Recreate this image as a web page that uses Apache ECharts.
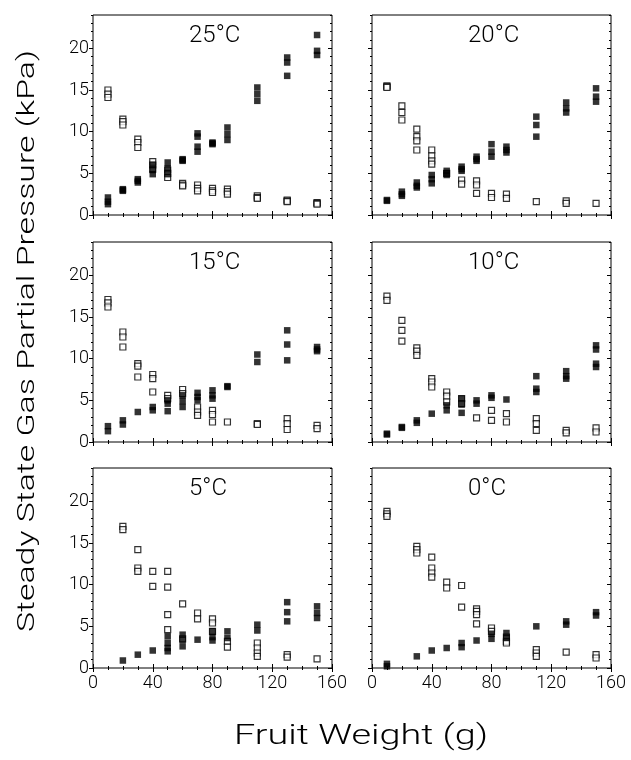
<!DOCTYPE html>
<html>
<head>
<meta charset="utf-8">
<script src="https://cdn.jsdelivr.net/npm/echarts@6/dist/echarts.min.js"></script>
<style>html,body{margin:0;padding:0;background:#fff}#c{width:631px;height:760px}</style>
</head>
<body>
<div id="c"></div>
<script>
// ---- data: [fruit weight (g), partial pressure (kPa)] ----
const panelTitles = ['25°C', '20°C', '15°C', '10°C', '5°C', '0°C'];
const xTicks = [0, 40, 80, 120, 160];
const yTicks = [0, 5, 10, 15, 20];

const open25 = [[10,15.0],[10,14.5],[10,14.1],[20,11.5],[20,11.2],[20,10.8],[30,9.1],[30,8.7],[30,8.1],[40,6.4],[40,6.0],[40,5.5],[50,5.4],[50,5.0],[50,4.5],[60,3.8],[60,3.6],[60,3.5],[70,3.6],[70,3.2],[70,2.9],[80,3.2],[80,2.9],[80,2.7],[90,3.1],[90,2.8],[90,2.5],[110,2.3],[110,2.1],[110,2.0],[130,1.8],[130,1.7],[130,1.6],[150,1.5],[150,1.4],[150,1.3]];
const filled25 = [[10,2.1],[10,1.6],[10,1.3],[20,3.1],[20,3.0],[20,2.9],[30,4.3],[30,4.1],[30,3.9],[40,6.0],[40,5.4],[40,4.9],[50,6.3],[50,5.6],[50,4.9],[60,6.7],[60,6.6],[60,6.5],[70,9.8],[70,9.4],[70,8.2],[70,7.6],[80,8.7],[80,8.6],[80,8.5],[90,10.5],[90,9.7],[90,9.0],[110,15.3],[110,14.5],[110,13.7],[130,18.9],[130,18.3],[130,16.7],[150,21.6],[150,19.7],[150,19.2]];

const open20 = [[10,15.5],[10,15.4],[10,15.3],[20,13.1],[20,12.3],[20,11.4],[30,10.3],[30,9.4],[30,8.9],[30,7.8],[40,7.8],[40,7.1],[40,6.5],[40,6.1],[50,5.0],[60,4.2],[60,3.7],[70,4.1],[70,3.6],[70,2.6],[80,2.6],[80,2.1],[90,2.5],[90,2.0],[110,1.6],[130,1.7],[130,1.4],[150,1.4]];
const filled20 = [[10,1.8],[10,1.7],[20,2.8],[20,2.5],[20,2.3],[30,3.9],[30,3.5],[30,3.3],[40,4.8],[40,4.3],[40,3.8],[50,5.3],[50,5.0],[50,4.8],[60,5.8],[60,5.5],[60,5.3],[70,7.0],[70,6.7],[70,6.5],[80,8.5],[80,7.6],[80,7.0],[90,8.2],[90,7.8],[90,7.5],[110,11.8],[110,10.8],[110,9.4],[130,13.5],[130,12.8],[130,12.3],[150,15.2],[150,14.2],[150,13.6]];

const open15 = [[10,17.1],[10,16.7],[10,16.2],[20,13.2],[20,12.6],[20,11.4],[30,9.4],[30,9.1],[30,7.8],[40,8.1],[40,7.6],[40,6.0],[50,5.6],[50,5.2],[60,6.3],[60,5.8],[70,4.2],[70,3.6],[70,3.2],[80,3.8],[80,3.3],[80,2.4],[90,2.4],[110,2.2],[110,2.1],[130,2.8],[130,2.2],[130,1.5],[150,2.0],[150,1.6]];
const filled15 = [[10,1.9],[10,1.3],[20,2.6],[20,2.1],[30,3.6],[40,4.2],[40,3.8],[50,5.0],[50,4.6],[50,3.7],[60,5.6],[60,4.9],[60,4.2],[70,5.9],[70,5.4],[70,5.0],[80,6.2],[80,5.6],[80,5.2],[90,6.7],[90,6.6],[110,10.5],[110,9.6],[130,13.4],[130,11.7],[130,9.8],[150,11.4],[150,11.1],[150,10.9]];

const open10 = [[10,17.5],[10,17.0],[20,14.6],[20,13.4],[20,12.1],[30,11.3],[30,10.9],[30,10.4],[40,7.6],[40,7.2],[40,6.6],[50,6.0],[50,5.5],[50,4.8],[60,5.2],[60,4.6],[70,2.9],[80,3.8],[80,2.6],[90,3.4],[90,2.4],[110,2.8],[110,2.2],[110,1.4],[130,1.4],[130,1.1],[150,1.7],[150,1.2]];
const filled10 = [[10,1.0],[10,0.9],[20,1.8],[20,1.7],[30,2.6],[30,2.3],[40,3.4],[50,4.4],[50,3.8],[60,5.2],[60,4.5],[60,3.5],[70,5.0],[70,4.6],[80,5.6],[80,5.3],[90,5.1],[110,7.9],[110,6.4],[110,6.0],[130,8.5],[130,7.9],[130,7.6],[150,11.6],[150,11.1],[150,9.4],[150,9.0]];

const open5 = [[20,17.0],[20,16.6],[30,14.2],[30,12.0],[30,11.6],[40,11.6],[40,9.8],[50,11.6],[50,9.7],[50,6.4],[50,4.6],[60,7.7],[60,3.5],[70,6.6],[70,5.9],[80,5.9],[80,5.4],[80,4.4],[90,3.2],[90,2.5],[110,3.0],[110,2.4],[110,1.8],[110,1.4],[130,1.6],[130,1.3],[150,1.1]];
const filled5 = [[20,0.9],[30,1.6],[40,2.1],[50,3.8],[50,3.0],[50,2.4],[50,2.0],[60,4.0],[60,3.4],[60,2.6],[70,3.4],[80,4.4],[80,3.7],[80,3.3],[90,4.4],[90,3.6],[110,5.2],[110,4.5],[130,7.9],[130,6.7],[130,5.6],[150,7.4],[150,6.6],[150,6.0]];

const open0 = [[10,18.8],[10,18.5],[10,18.2],[30,14.6],[30,14.2],[30,13.8],[40,13.3],[40,12.0],[40,11.4],[40,10.9],[50,10.3],[50,9.6],[60,9.9],[60,7.3],[70,7.1],[70,6.8],[70,6.4],[70,5.3],[80,4.8],[80,4.4],[90,3.7],[90,3.2],[90,3.0],[110,2.2],[110,1.8],[110,1.4],[130,1.9],[150,1.6],[150,1.2]];
const filled0 = [[10,0.5],[10,0.2],[30,1.4],[40,2.1],[50,2.4],[60,3.0],[60,2.5],[70,3.3],[80,4.1],[80,3.5],[90,4.2],[90,3.6],[110,5.0],[130,5.6],[130,5.2],[150,6.7],[150,6.3]];

const openSets = [open25, open20, open15, open10, open5, open0];
const filledSets = [filled25, filled20, filled15, filled10, filled5, filled0];

// ---- layout ----
const FONT = 'Roboto';
const colLeft = [93, 372];
const rowTop = [15, 242, 468];
const gw = 239, gh = 200;

const grid = [], xAxis = [], yAxis = [], series = [], graphic = [];
for (let i = 0; i < 6; i++) {
  const col = i % 2, row = Math.floor(i / 2);
  grid.push({left: colLeft[col], top: rowTop[row], width: gw, height: gh,
    show: true, borderColor: '#000', borderWidth: 1, backgroundColor: 'transparent'});
  const showX = row === 2, showY = col === 0;
  const xBase = {gridIndex: i, type: 'value', min: 0, max: 160, interval: 40,
    axisLine: {show: false}, splitLine: {show: false},
    axisTick: {inside: true, length: 4, lineStyle: {color: '#000'}},
    minorTick: {show: true, splitNumber: 4, length: 2, lineStyle: {color: '#000'}}};
  xAxis.push(Object.assign({}, xBase, {position: 'bottom',
    axisLabel: {show: showX, margin: 6, color: '#000', fontFamily: FONT, fontWeight: 300, fontSize: 18,
      customValues: xTicks}}));
  xAxis.push(Object.assign({}, xBase, {position: 'top', axisLabel: {show: false}}));
  const yBase = {gridIndex: i, type: 'value', min: 0, max: 24,
    axisLine: {show: false}, splitLine: {show: false}};
  yAxis.push(Object.assign({}, yBase, {position: 'left', interval: 5,
    axisTick: {inside: false, length: 4, customValues: yTicks, lineStyle: {color: '#000'}},
    axisLabel: {show: showY, margin: 4, customValues: yTicks,
      color: '#000', fontFamily: FONT, fontWeight: 300, fontSize: 18}}));
  yAxis.push(Object.assign({}, yBase, {position: 'left', interval: 1,
    axisTick: {inside: false, length: 2, lineStyle: {color: '#000'}}, axisLabel: {show: false}}));
  yAxis.push(Object.assign({}, yBase, {position: 'right', interval: 5,
    axisTick: {inside: true, length: 4, customValues: yTicks, lineStyle: {color: '#000'}}, axisLabel: {show: false}}));
  yAxis.push(Object.assign({}, yBase, {position: 'right', interval: 1,
    axisTick: {inside: true, length: 2, lineStyle: {color: '#000'}}, axisLabel: {show: false}}));

  series.push({type: 'scatter', xAxisIndex: i * 2, yAxisIndex: i * 4, data: openSets[i],
    symbol: 'rect', symbolSize: 6, z: 2,
    itemStyle: {color: '#fff', borderColor: '#000', borderWidth: 1.2}});
  series.push({type: 'scatter', xAxisIndex: i * 2, yAxisIndex: i * 4, data: filledSets[i],
    symbol: 'rect', symbolSize: 6.5, z: 3,
    itemStyle: {color: '#000', borderColor: '#000', borderWidth: 0}});

  graphic.push({type: 'text', left: col === 0 ? 189 : 468, top: rowTop[row] + 9,
    style: {text: panelTitles[i], fontFamily: FONT, fontWeight: 300, fontSize: 24, fill: '#000'}});
}

graphic.push({type: 'text', x: 28, y: 341, rotation: Math.PI / 2, scaleX: 1.41,
  style: {text: 'Steady State Gas Partial Pressure (kPa)', fontFamily: FONT, fontWeight: 300, fontSize: 24,
    fill: '#000', align: 'center', verticalAlign: 'middle'}});
graphic.push({type: 'text', x: 361, y: 737, scaleX: 1.4,
  style: {text: 'Fruit Weight (g)', fontFamily: FONT, fontWeight: 300, fontSize: 27,
    fill: '#000', align: 'center', verticalAlign: 'middle'}});

const chart = echarts.init(document.getElementById('c'), null, {renderer: 'canvas'});
chart.setOption({animation: false, backgroundColor: '#fff', grid, xAxis, yAxis, series, graphic});
</script>
</body>
</html>
